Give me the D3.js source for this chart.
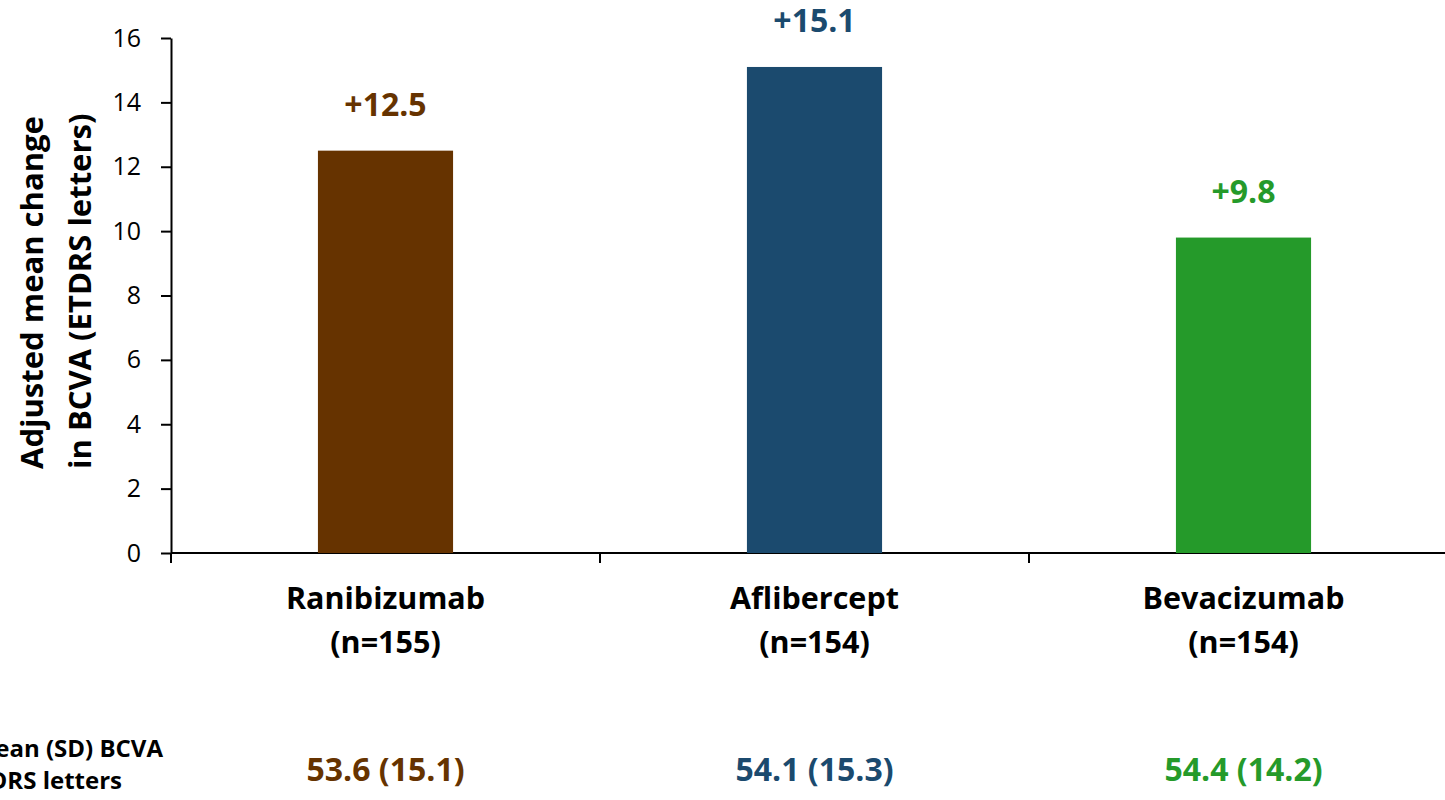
<!DOCTYPE html>
<html>
<head>
<meta charset="utf-8">
<script src="https://cdn.jsdelivr.net/npm/d3@7"></script>
<style>
  html, body { margin: 0; padding: 0; background: #fff; }
  svg { display: block; font-family: "Open Sans", "Noto Sans", sans-serif; }
</style>
</head>
<body>
<svg id="chart" width="1445" height="800"></svg>
<script>
// Treatment arms and their results
const drugs = ["Ranibizumab", "Aflibercept", "Bevacizumab"];
const sampleSizes = ["(n=155)", "(n=154)", "(n=154)"];
const meanChange = [12.5, 15.1, 9.8];
const baselineBCVA = ["53.6 (15.1)", "54.1 (15.3)", "54.4 (14.2)"];
const armColors = ["#663300", "#1b4a6e", "#259a2a"];
const yTicks = [0, 2, 4, 6, 8, 10, 12, 14, 16];

const svg = d3.select("#chart");
const margin = { left: 171, top: 38, bottom: 553 };
const bandStep = 429;

const x = d3.scaleBand()
  .domain(drugs)
  .range([margin.left, margin.left + bandStep * drugs.length])
  .paddingInner(0.685)
  .paddingOuter(0.3425);

const y = d3.scaleLinear()
  .domain([0, 16])
  .range([margin.bottom, margin.top]);

const cx = d => x(d) + x.bandwidth() / 2;

// Y axis
const yAxis = svg.append("g")
  .attr("transform", `translate(${margin.left},0)`)
  .call(d3.axisLeft(y).tickValues(yTicks).tickSize(10).tickPadding(20).tickSizeOuter(0));
yAxis.select(".domain").attr("stroke", "#000").attr("stroke-width", 2);
yAxis.selectAll(".tick line").attr("stroke", "#000").attr("stroke-width", 2);
yAxis.selectAll(".tick text")
  .attr("font-size", 25)
  .attr("font-family", "'Open Sans', sans-serif")
  .attr("fill", "#000");

// X axis baseline with category separators
const sepX = d3.range(0, drugs.length + 1).map(i => margin.left + i * bandStep);
svg.append("line")
  .attr("x1", margin.left).attr("x2", 1445)
  .attr("y1", y(0)).attr("y2", y(0))
  .attr("stroke", "#000").attr("stroke-width", 2);
svg.selectAll("line.sep")
  .data(sepX)
  .join("line")
  .attr("class", "sep")
  .attr("x1", d => d).attr("x2", d => d)
  .attr("y1", y(0)).attr("y2", y(0) + 10)
  .attr("stroke", "#000").attr("stroke-width", 2);

// Bars
svg.selectAll("rect.bar")
  .data(drugs)
  .join("rect")
  .attr("class", "bar")
  .attr("x", d => x(d))
  .attr("width", x.bandwidth())
  .attr("y", (d, i) => y(meanChange[i]))
  .attr("height", (d, i) => y(0) - y(meanChange[i]))
  .attr("fill", (d, i) => armColors[i]);

// Value labels above bars
svg.selectAll("text.val")
  .data(drugs)
  .join("text")
  .attr("class", "val")
  .attr("x", cx)
  .attr("y", (d, i) => y(meanChange[i]) - 35)
  .attr("text-anchor", "middle")
  .attr("font-size", 32)
  .attr("font-weight", 700)
  .attr("fill", (d, i) => armColors[i])
  .text((d, i) => "+" + meanChange[i].toFixed(1));

// Category labels
svg.selectAll("text.cat")
  .data(drugs)
  .join("text")
  .attr("class", "cat")
  .attr("x", cx)
  .attr("y", 609)
  .attr("text-anchor", "middle")
  .attr("font-size", 30.5)
  .attr("font-weight", 700)
  .attr("fill", "#000")
  .text(d => d);

svg.selectAll("text.n")
  .data(drugs)
  .join("text")
  .attr("class", "n")
  .attr("x", cx)
  .attr("y", 653)
  .attr("text-anchor", "middle")
  .attr("font-size", 30.5)
  .attr("font-weight", 700)
  .attr("fill", "#000")
  .text((d, i) => sampleSizes[i]);

// Baseline BCVA row
svg.selectAll("text.base")
  .data(drugs)
  .join("text")
  .attr("class", "base")
  .attr("x", cx)
  .attr("y", 781)
  .attr("text-anchor", "middle")
  .attr("font-size", 32)
  .attr("font-weight", 700)
  .attr("fill", (d, i) => armColors[i])
  .text((d, i) => baselineBCVA[i]);

const rowLabel = svg.append("text")
  .attr("font-size", 24)
  .attr("font-weight", 700)
  .attr("text-anchor", "end")
  .attr("fill", "#000");
rowLabel.append("tspan").attr("x", 163).attr("y", 757).text("Mean (SD) BCVA");
rowLabel.append("tspan").attr("x", 122).attr("y", 789).text("ETDRS letters");

// Y axis title
const yTitle = svg.append("text")
  .attr("transform", "translate(0,469) rotate(-90)")
  .attr("text-anchor", "start")
  .attr("font-size", 31)
  .attr("font-weight", 700)
  .attr("fill", "#000");
yTitle.append("tspan").attr("x", 0).attr("y", 43).text("Adjusted mean change");
yTitle.append("tspan").attr("x", 0).attr("y", 91).text("in BCVA (ETDRS letters)");
</script>
</body>
</html>
